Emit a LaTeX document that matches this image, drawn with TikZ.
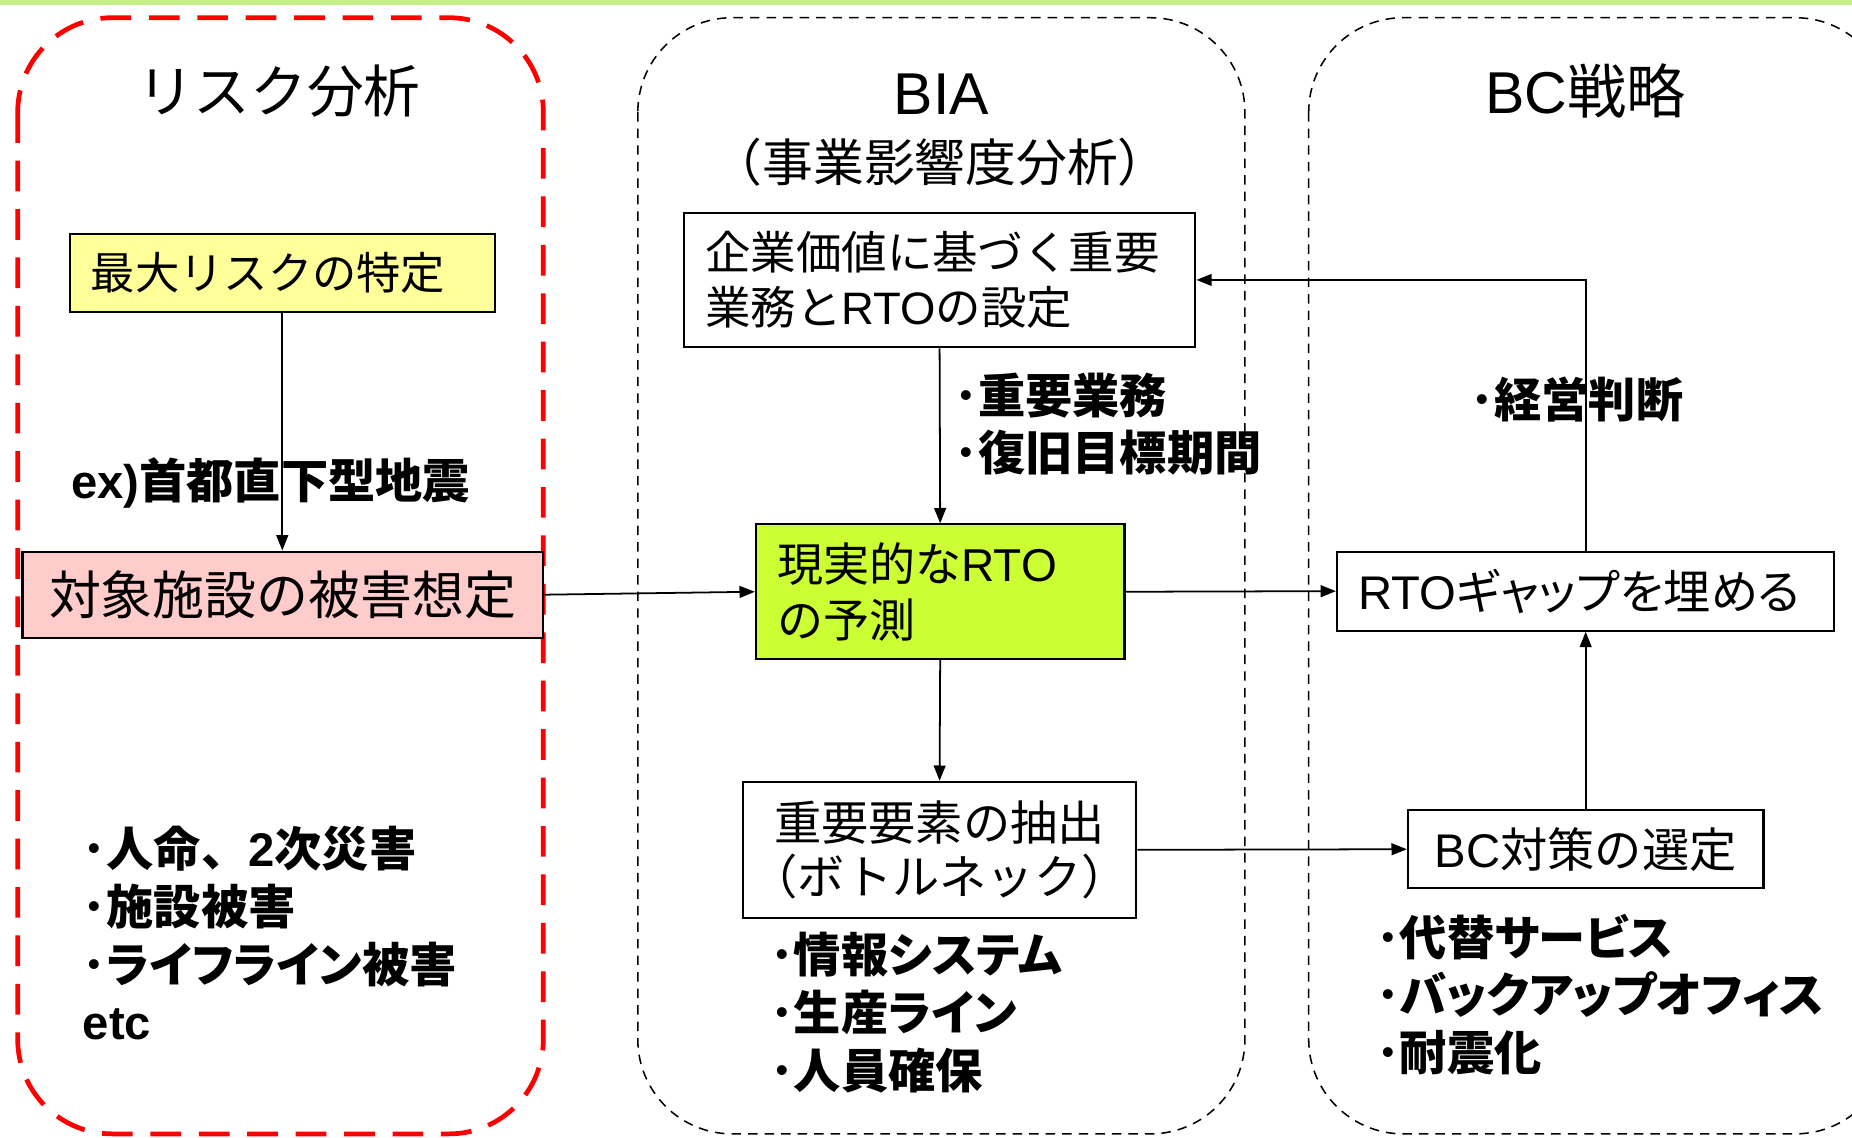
\documentclass[tikz,border=0pt]{standalone}
\usepackage{fontspec}
\setmainfont{Noto Sans CJK JP}
\newfontfamily\pfont{Noto Sans CJK JP}[RawFeature=+palt]
\newfontfamily\lat{Liberation Sans}
\usetikzlibrary{arrows.meta}
\definecolor{bandgreen}{RGB}{198,239,140}
\definecolor{boxyellow}{RGB}{255,255,153}
\definecolor{boxpink}{RGB}{255,204,204}
\definecolor{boxlime}{RGB}{204,255,51}
\definecolor{panelred}{RGB}{255,0,0}
\begin{document}
\begin{tikzpicture}[x=1pt,y=-1pt,
  redpanel/.style={draw=panelred, line width=4pt, dash pattern=on 26pt off 15pt, rounded corners=80pt},
  blackpanel/.style={draw=black, line width=1.3pt, dash pattern=on 8pt off 6pt, rounded corners=80pt},
  title/.style={inner sep=0pt, font=\fontsize{48}{52}\selectfont},
  box/.style={draw=black, line width=1.8pt, inner xsep=18pt, inner ysep=0pt},
  lbl/.style={inner sep=0pt, align=left, font=\pfont\bfseries\fontsize{40}{49}\selectfont},
  conn/.style={draw=black, line width=1.5pt, -{Triangle[length=13pt,width=10pt]}}
]
\useasboundingbox (0,0) rectangle (1568,963);
\clip (0,0) rectangle (1568,963);
\fill[bandgreen] (0,0) rectangle (1568,4.5);

% panels
\draw[redpanel] (15,15) rectangle (460,960);
\draw[blackpanel] (540,15) rectangle (1054,960);
\draw[blackpanel] (1108,15) rectangle (1600,960);

% titles
\node[title] (t1) at (236,77) {リスク分析};
\node[title, font=\fontsize{50}{54}\selectfont] (t2) at (797,80) {\lat BIA};
\node[title, font=\fontsize{43}{46}\selectfont] (t2b) at (796,137) {（事業影響度分析）};
\node[title, font=\fontsize{50}{54}\selectfont] (t3) at (1342,77) {{\lat BC}戦略};

% boxes
\node[box, fill=boxyellow, minimum width=360pt, minimum height=66pt, text width=324pt, align=left,
      font=\fontsize{37.5}{44}\selectfont] (b1) at (239,231) {最大リスクの特定};
\node[box, fill=boxpink, minimum width=441pt, minimum height=73pt, inner xsep=0pt,
      font=\fontsize{44}{50}\selectfont] (b2) at (239.5,503.5) {対象施設の被害想定};
\node[box, fill=white, minimum width=433pt, minimum height=114pt, text width=397pt, align=left,
      font=\fontsize{38.5}{47}\selectfont] (b3) at (795.5,237) {企業価値に基づく重要\\業務と{\lat RTO}の設定};
\node[box, fill=boxlime, minimum width=312pt, minimum height=114pt, text width=276pt, align=left,
      font=\fontsize{39}{47}\selectfont] (b4) at (796,501) {現実的な{\lat RTO}\\の予測};
\node[box, fill=white, minimum width=333pt, minimum height=115pt, inner xsep=0pt, align=center,
      font=\fontsize{40}{45}\selectfont] (b5) at (795.5,719.5) {重要要素の抽出\\（ボトルネック）};
\node[box, fill=white, minimum width=421pt, minimum height=67pt, text width=385pt, align=left,
      font=\pfont\fontsize{40}{46}\selectfont] (b6) at (1342.5,500.5) {{\lat RTO}ギャップを埋める};
\node[box, fill=white, minimum width=301pt, minimum height=66pt, inner xsep=0pt,
      font=\fontsize{40}{46}\selectfont] (b7) at (1342.5,719) {{\lat BC}対策の選定};

% labels
\node[lbl, anchor=west] (exl) at (60,409) {{\lat ex)}首都直下型地震};
\node[lbl, anchor=west] (l1) at (70,790) {･人命{\rmfamily\bfseries 、}{\lat 2}次災害\\･施設被害\\･ライフライン被害\\{\lat etc}};
\node[lbl, anchor=west] (l2) at (808,359) {･重要業務\\･復旧目標期間};
\node[lbl, anchor=west] (l3) at (1245,338) {･経営判断};
\node[lbl, anchor=west] (l4) at (652,857) {･情報システム\\･生産ライン\\･人員確保};
\node[lbl, anchor=west] (l5) at (1165,842) {･代替サービス\\･バックアップオフィス\\･耐震化};

% connectors
\draw[conn] (b1.south) -- (b1.south |- b2.north);
\draw[conn] (b2.east) -- (b4.west);
\draw[conn] (b3.south) -- (b4.north);
\draw[conn] (b4.south) -- (b5.north);
\draw[conn] (b4.east) -- (b6.west);
\draw[conn] (b5.east) -- (b7.west);
\draw[conn] (b7.north) -- (b6.south);
\draw[conn] (b6.north) |- (b3.east);
\end{tikzpicture}
\end{document}
